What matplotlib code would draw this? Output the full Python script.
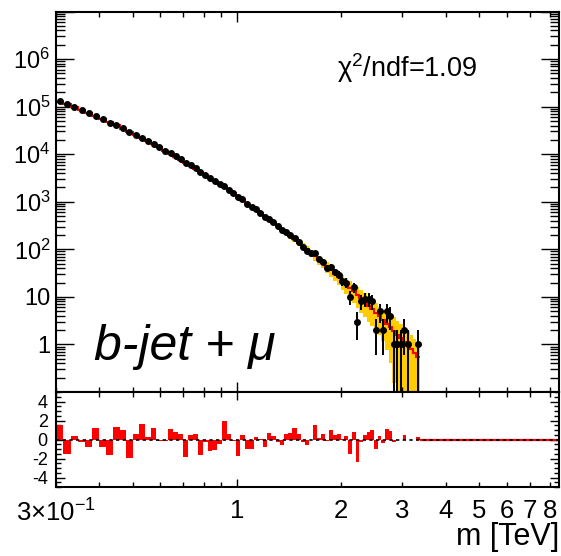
import numpy as np
import matplotlib
matplotlib.use('Agg')
import matplotlib.pyplot as plt
from matplotlib.ticker import FixedLocator, FixedFormatter, LogLocator, MultipleLocator, NullFormatter

plt.rcParams['font.family'] = ['Liberation Sans', 'DejaVu Sans']
plt.rcParams['mathtext.fontset'] = 'custom'
plt.rcParams['mathtext.rm'] = 'Liberation Sans'
plt.rcParams['mathtext.it'] = 'Liberation Sans:italic'
plt.rcParams['mathtext.bf'] = 'Liberation Sans:bold'

# ---------------- data ----------------
edges_gev = [300, 315, 331, 347, 364, 382, 400, 419, 438, 458,
             478, 499, 520, 541, 563, 585, 608, 631, 654, 676,
             699, 722, 746, 771, 796, 822, 849, 876, 904, 932,
             961, 991, 1021, 1052, 1084, 1117, 1150, 1184, 1219, 1255,
             1291, 1328, 1366, 1405, 1445, 1485, 1526, 1568, 1611, 1655,
             1700, 1746, 1793, 1841, 1889, 1939, 1989, 2040, 2092, 2145,
             2199, 2254, 2311, 2368, 2427, 2487, 2548, 2610, 2673, 2737,
             2802, 2869, 2937, 3006, 3076, 3147, 3220, 3294, 3369]

data_counts = [128336, 110999, 97209, 84413, 72784, 63301, 54114, 46354, 40461, 34695,
               29303, 25526, 22097, 18841, 16303, 13846, 11878, 10351,
               8945, 7747, 6522, 5823, 5042, 4211, 3704, 3136, 2700,
               2346, 2129, 1778, 1496, 1229, 1124, 916, 781, 699, 592,
               486, 443, 373, 306, 255, 234, 201, 177, 145, 114,
               93, 84, 84, 62, 55, 41, 42, 33, 29, 22,
               20, 10, 16, 3, 8, 9, 9, 8, 2, 5,
               2, 5, 4, 1, 1, 1, 2, 1, 0, 0,
               1]

fit_values = [127800, 111500, 97100, 84500, 73000, 63000, 54300, 46700, 40200, 34500,
              29630, 25430, 21860, 18800, 16150, 13870, 11900, 10240,
              8870, 7694, 6673, 5785, 5000, 4316, 3722, 3204, 2758,
              2370, 2039, 1753, 1504, 1290, 1107, 947, 809, 691, 590,
              504, 429, 365, 311, 265, 225, 191, 162, 138, 117,
              99.2, 83.9, 71.0, 60.0, 50.7, 42.8, 36.1, 30.5, 25.8, 21.8,
              18.4, 15.5, 13.1, 11.0, 9.27, 7.80, 6.56, 5.50, 4.62, 3.88,
              3.25, 2.73, 2.29, 1.92, 1.61, 1.35, 1.13, 0.947, 0.793, 0.663,
              0.555]

fit_rel_unc = [0.010, 0.010, 0.010, 0.010, 0.010, 0.010, 0.010, 0.010, 0.010, 0.010,
               0.010, 0.010, 0.010, 0.010, 0.010, 0.010, 0.010, 0.010,
               0.015, 0.015, 0.015, 0.015, 0.015, 0.015, 0.015, 0.015, 0.015,
               0.030, 0.032, 0.035, 0.038, 0.042, 0.046, 0.050, 0.055, 0.060, 0.066,
               0.072, 0.079, 0.086, 0.094, 0.102, 0.110, 0.119, 0.128, 0.138, 0.149,
               0.160, 0.175, 0.190, 0.205, 0.220, 0.245, 0.270, 0.295, 0.320, 0.350,
               0.380, 0.410, 0.440, 0.470, 0.500, 0.520, 0.540, 0.560, 0.580, 0.600,
               0.640, 0.720, 0.820, 0.920, 0.960, 0.970, 0.980, 0.980, 0.990, 0.990,
               0.990]

residuals = [1.5, -1.5, 0.35, -0.3, -0.8, 1.2, -0.8, -1.6, 1.3, 1.05,
             -1.9, 0.6, 1.6, 0.3, 1.2, -0.2, -0.2, 1.1,
             0.8, 0.6, -1.85, 0.5, 0.6, -1.6, -0.3, -1.2, -1.1,
             -0.5, 2.0, 0.6, -0.2, -1.7, 0.5, -1.0, -1.0, 0.3, 0.1,
             -0.8, 0.7, 0.4, -0.3, -0.6, 0.6, 0.7, 1.2, 0.6, -0.3,
             -0.6, 0.0, 1.5, 0.2, 0.6, -0.2, 1.0, 0.5, 0.6, 0.1,
             0.4, -1.5, 0.8, -2.4, -0.3, 0.5, 0.8, 1.0, -1.0, 0.4,
             -0.4, 1.1, 0.9, -0.3, 0.0, 0.0, 0.5, 0.0, 0.0, 0.0,
             0.3]

x_minor_ticks = [0.3, 0.4, 0.5, 0.6, 0.7, 0.8, 0.9, 2, 3, 4, 5, 6, 7, 8]
x_minor_labels = ['3×10$^{-1}$', '', '', '', '', '', '', '2', '3', '4', '5', '6', '7', '8']
y_major_ticks = [0.1, 1, 10, 1e2, 1e3, 1e4, 1e5, 1e6, 1e7]
y_major_labels = ['', '1', '10', '$10^{2}$', '$10^{3}$', '$10^{4}$', '$10^{5}$', '$10^{6}$', '']
res_ticks = [-4, -2, 0, 2, 4]
res_labels = ['-4', '-2', '0', '2', '4']

# ---------------- figure layout ----------------
W, H = 561, 556
fig = plt.figure(figsize=(W / 100, H / 100), dpi=100)
def fx(px): return px / W
def fy(py): return 1 - py / H

L, R = 56, 559
T1, B1, B2 = 11.5, 392, 487
ax1 = fig.add_axes([fx(L), fy(B1), (R - L) / W, (B1 - T1) / H])
ax2 = fig.add_axes([fx(L), fy(B2), (R - L) / W, (B2 - B1) / H], sharex=ax1)

edges = np.array(edges_gev) / 1000.0
centers = 0.5 * (edges[:-1] + edges[1:])
fit = np.array(fit_values)
d = np.array(data_counts, dtype=float)
sig = np.array(fit_rel_unc)

# band
lo = np.clip(fit * (1 - sig), 1e-4, None)
hi = fit * (1 + sig)
ax1.fill_between(edges, np.append(lo, lo[-1]), np.append(hi, hi[-1]), step='post',
                 color='#ffcc00', lw=0, zorder=1)
# fit
ax1.stairs(fit, edges, baseline=None, color='red', lw=1.5, zorder=2)
# data
m = d > 0
dd = d[m]
err = np.sqrt(dd)
lower = dd - np.clip(dd - err, 1e-4, None)
ax1.errorbar(centers[m], dd, yerr=[lower, err], fmt='o', color='black', ms=4.0,
             elinewidth=1.4, capsize=0, zorder=3)

ax1.set_xscale('log')
ax1.set_yscale('log')
ax1.set_xlim(0.3, 8.5)
ax1.set_ylim(0.1, 1e7)

ax1.yaxis.set_major_locator(FixedLocator(y_major_ticks))
ax1.yaxis.set_major_formatter(FixedFormatter(y_major_labels))
ax1.yaxis.set_minor_locator(LogLocator(base=10, subs=np.arange(2, 10)))
ax1.yaxis.set_minor_formatter(NullFormatter())

ax1.tick_params(axis='y', which='major', direction='in', length=13, width=1.0,
                left=True, right=True, labelsize=17, pad=4)
ax1.tick_params(axis='y', which='minor', direction='in', length=6.5, width=1.0,
                left=True, right=True)
ax1.tick_params(axis='x', which='major', direction='in', length=7, width=1.0,
                top=True, bottom=True, labelbottom=False)
ax1.tick_params(axis='x', which='minor', direction='in', length=3.5, width=1.0,
                top=True, bottom=True, labelbottom=False)

# residual panel
ax2.stairs(np.array(residuals), edges, baseline=0, fill=True, color='red', lw=0, zorder=2)
ax2.hlines(0, edges[-1], 8.5, color='red', lw=1.6, zorder=2)
ax2.axhline(0, color='black', lw=1.2, ls=(0, (2, 2)), zorder=3)
ax2.set_ylim(-5, 5)
ax2.yaxis.set_major_locator(FixedLocator(res_ticks))
ax2.yaxis.set_major_formatter(FixedFormatter(res_labels))
ax2.yaxis.set_minor_locator(MultipleLocator(0.5))

ax2.set_xticks([1], labels=['1'])
ax2.set_xticks(x_minor_ticks, labels=x_minor_labels, minor=True)
ax2.set_xlim(0.3, 8.5)

ax2.tick_params(axis='y', which='major', direction='in', length=6.5, width=1.0,
                left=True, right=True, labelsize=13, pad=6)
ax2.tick_params(axis='y', which='minor', direction='in', length=3.6, width=1.0,
                left=True, right=True)
ax2.tick_params(axis='x', which='both', direction='in', width=1.0, top=True, bottom=True,
                labelsize=18.5, pad=9)
ax2.tick_params(axis='x', which='major', length=6)
ax2.tick_params(axis='x', which='minor', length=3.5)

for ax in (ax1, ax2):
    for s in ax.spines.values():
        s.set_linewidth(1.5)

fig.text(fx(559), fy(537), 'm [TeV]', ha='right', va='center', fontsize=22)
fig.text(fx(337), fy(68), 'χ$^{2}$/ndf=1.09', ha='left', va='center', fontsize=19.5)
fig.text(fx(94), fy(360), 'b-jet + μ', ha='left', va='baseline', fontsize=36, fontstyle='italic')

fig.savefig('out.png', dpi=100)
